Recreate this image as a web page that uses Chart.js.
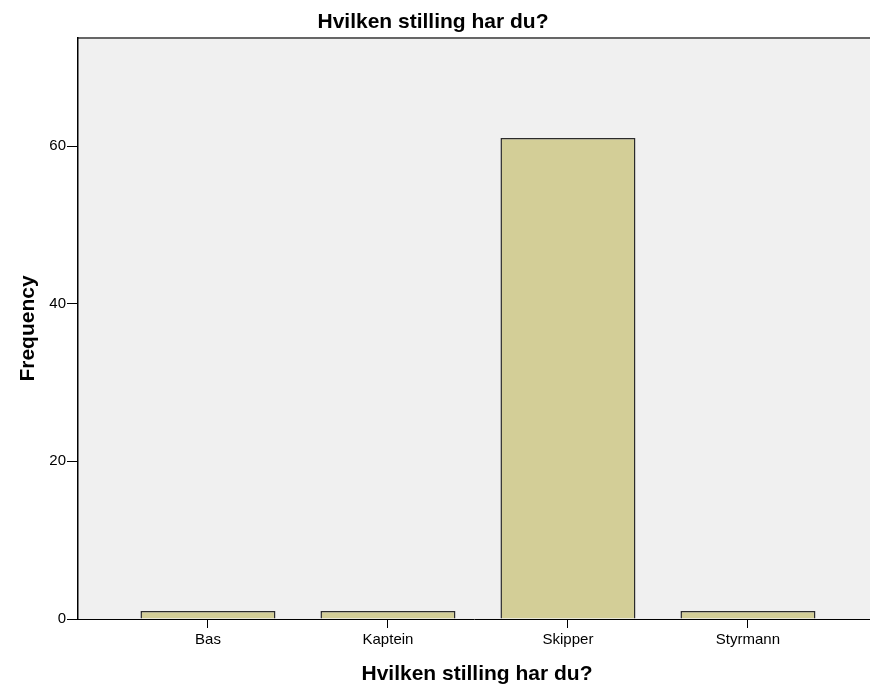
<!DOCTYPE html>
<html>
<head>
<meta charset="utf-8">
<script src="https://cdn.jsdelivr.net/npm/chart.js@4.4.1/dist/chart.umd.min.js"></script>
<style>
    body { margin: 0; background: #ffffff; overflow: hidden; }
    canvas { display: block; }
</style>
</head>
<body>
<canvas id="chart" width="870" height="685"></canvas>
<script>
const categories = ["Bas", "Kaptein", "Skipper", "Styrmann"];
const frequencies = [1, 1, 61, 1];
const yTicks = [0, 20, 40, 60];
const chartTitle = "Hvilken stilling har du?";
const xTitle = "Hvilken stilling har du?";
const yTitle = "Frequency";

const font = "'Liberation Sans', Arial, sans-serif";

// plot background, frame and the free-standing titles
const decor =
{
    id: "decor",
    beforeDraw(chart)
    {
        const a = chart.chartArea;
        const ctx = chart.ctx;
        ctx.save();
        ctx.fillStyle = "#f0f0f0";
        ctx.fillRect(a.left, a.top, a.right - a.left, a.bottom - a.top);
        ctx.strokeStyle = "#666666";
        ctx.lineWidth = 2;
        ctx.beginPath();
        ctx.moveTo(a.left, a.top);
        ctx.lineTo(a.right, a.top);
        ctx.stroke();
        ctx.restore();
    },
    afterDraw(chart)
    {
        const ctx = chart.ctx;
        const a = chart.chartArea;
        ctx.save();
        ctx.fillStyle = "#000000";
        ctx.font = "bold 21px " + font;
        ctx.textAlign = "center";
        ctx.textBaseline = "alphabetic";
        ctx.fillText(chartTitle, 433, 28);
        // x title sits under the middle of the whole plot band (which runs past the right edge)
        ctx.fillText(xTitle, 477, 680);
        ctx.translate(34, (a.top + a.bottom) / 2);
        ctx.rotate(-Math.PI / 2);
        ctx.fillText(yTitle, 0, 0);
        ctx.restore();
    }
};

new Chart(document.getElementById("chart"),
{
    type: "bar",
    data:
    {
        datasets:
        [
            {
                data: frequencies.map((v, i) => ({ x: i, y: v })),
                backgroundColor: "#d3ce97",
                borderColor: "#2b2b2b",
                borderWidth: 1.5,
                barPercentage: 0.75,
                categoryPercentage: 1
            }
        ]
    },
    options:
    {
        responsive: false,
        animation: false,
        devicePixelRatio: 1,
        layout: { padding: { top: 38, right: 0, left: 0, bottom: 0 } },
        plugins:
        {
            legend: { display: false },
            tooltip: { enabled: false }
        },
        scales:
        {
            x:
            {
                type: "linear",
                offset: false,
                min: -0.722,
                max: 3.678,
                afterBuildTicks: s => { s.ticks = categories.map((c, i) => ({ value: i })); },
                afterFit: s => { s.height = 66; },
                ticks:
                {
                    callback: v => categories[v],
                    color: "#000000",
                    font: { family: font, size: 15 },
                    padding: 3,
                    maxRotation: 0
                },
                grid:
                {
                    offset: false,
                    drawOnChartArea: false,
                    drawTicks: true,
                    tickLength: 9,
                    color: "#000000"
                },
                border: { display: true, color: "#000000", width: 1 }
            },
            y:
            {
                min: 0,
                max: 73.7,
                afterBuildTicks: s => { s.ticks = yTicks.map(v => ({ value: v })); },
                afterFit: s => { s.width = 78; },
                ticks:
                {
                    color: "#000000",
                    font: { family: font, size: 15 },
                    padding: 1
                },
                grid:
                {
                    drawOnChartArea: false,
                    drawTicks: true,
                    tickLength: 11,
                    color: "#000000"
                },
                border: { display: true, color: "#000000", width: 1.5 }
            }
        }
    },
    plugins: [decor]
});
</script>
</body>
</html>
